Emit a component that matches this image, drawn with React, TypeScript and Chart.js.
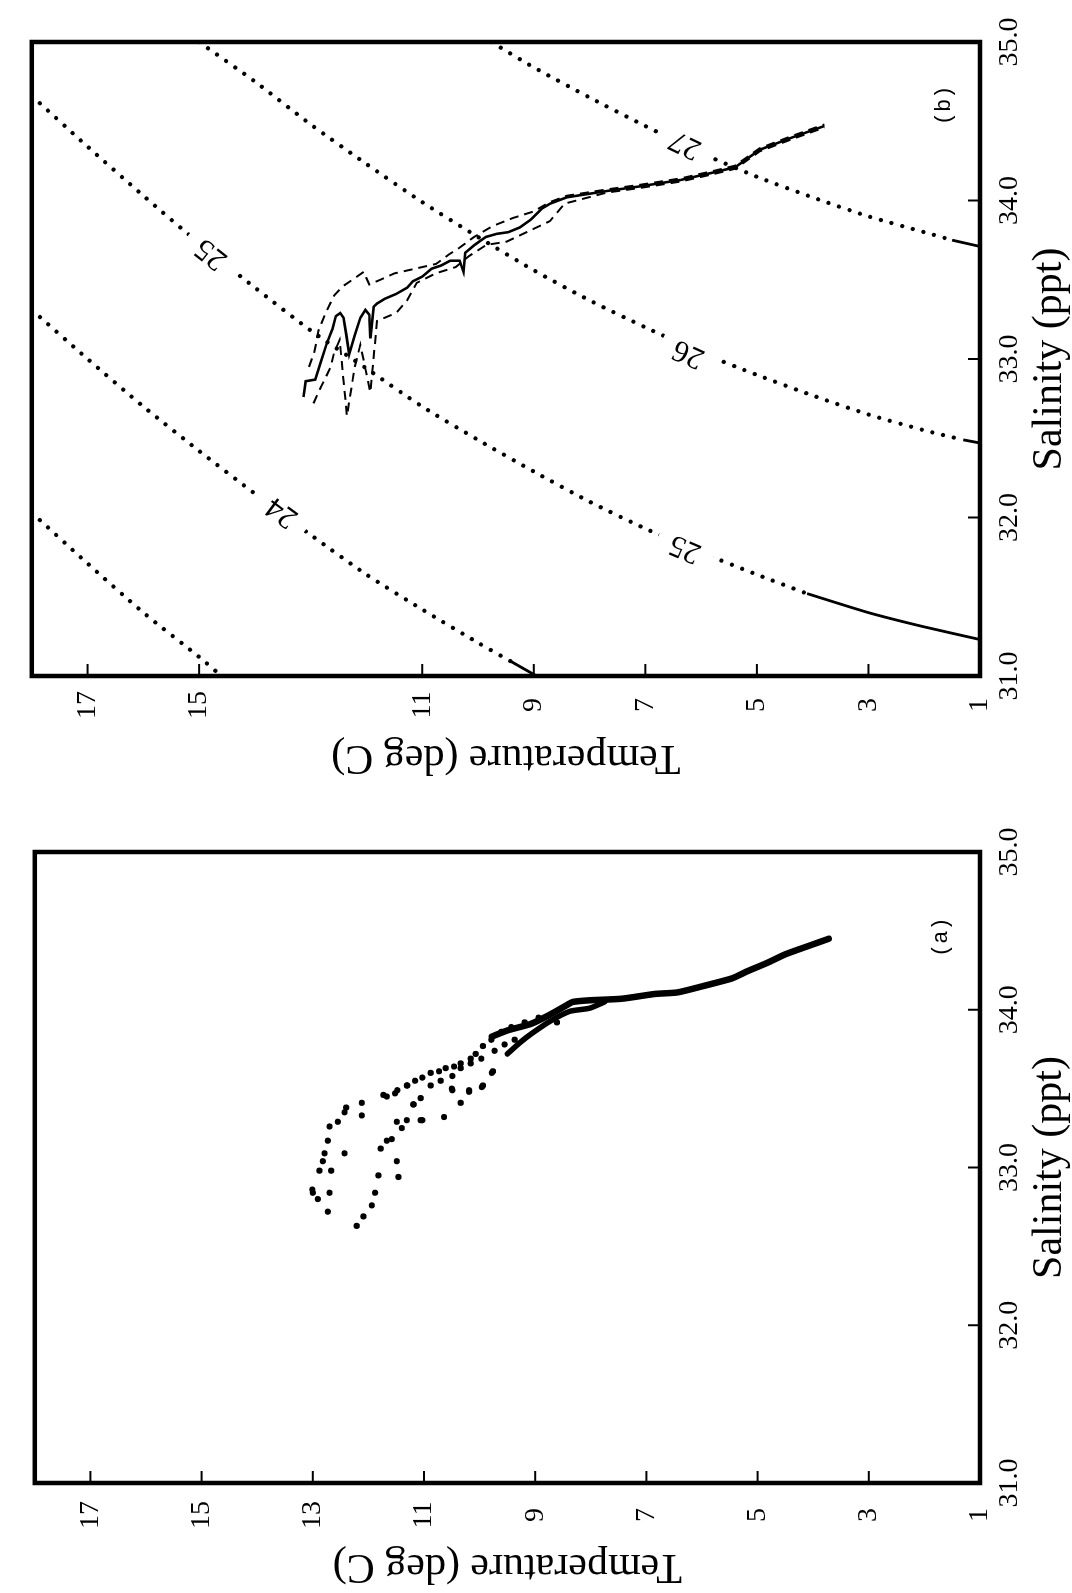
import React, { useEffect, useRef } from 'react';
import { Chart, registerables } from 'chart.js';

Chart.register(...registerables);

const FONT = "'Liberation Serif', 'DejaVu Serif', serif";
const MONO = "'Liberation Mono', 'DejaVu Sans Mono', monospace";

// ---------- axes ----------
const salinityRange = [31, 35];
const salinityStep = 0.25;
const salinityTickValues = [31, 32, 33, 34, 35];
const salinityTickLabels = ['31.0', '32.0', '33.0', '34.0', '35.0'];
const temperatureRange = [1, 18];
const temperatureStep = 1;
const temperatureTickValuesA = [1, 3, 5, 7, 9, 11, 13, 15, 17];
const temperatureTickLabelsA = ['1', '3', '5', '7', '9', '11', '13', '15', '17'];
const temperatureTickValuesB = [1, 3, 5, 7, 9, 11, 15, 17];
const temperatureTickLabelsB = ['1', '3', '5', '7', '9', '11', '15', '17'];
const xTitle = 'Salinity (ppt)';
const yTitle = 'Temperature (deg C)';

// ---------- panel (b): isopycnals (sigma-t) ----------
const sigma23S = [32.03, 31.71, 31.4, 31.12, 31.0];
const sigma23T = [18, 17, 16, 15, 14.6];
const sigma24S = [33.31, 33.0, 32.7, 32.42, 32.15, 31.89, 31.64, 31.42, 31.21, 31.09];
const sigma24T = [18, 17, 16, 15, 14, 13, 12, 11, 10, 9.4];
const sigma24SolidS = [31.09, 31.0];
const sigma24SolidT = [9.4, 8.95];
const sigma25S = [34.66, 34.34, 34.03, 33.73, 33.45, 33.18, 32.94, 32.7, 32.49, 32.29, 32.1, 31.93, 31.78, 31.64, 31.52];
const sigma25T = [18, 17, 16, 15, 14, 13, 12, 11, 10, 9, 8, 7, 6, 5, 4.1];
const sigma25SolidS = [31.52, 31.4, 31.31, 31.23];
const sigma25SolidT = [4.1, 3, 2, 1];
const sigma26S = [35.0, 34.75, 34.48, 34.23, 33.99, 33.77, 33.56, 33.37, 33.2, 33.04, 32.9, 32.77, 32.65, 32.55, 32.49];
const sigma26T = [15, 14, 13, 12, 11, 10, 9, 8, 7, 6, 5, 4, 3, 2, 1.3];
const sigma26SolidS = [32.49, 32.47];
const sigma26SolidT = [1.3, 1];
const sigma27S = [35.0, 34.84, 34.65, 34.47, 34.3, 34.15, 34.02, 33.9, 33.8, 33.75];
const sigma27T = [9.76, 9, 8, 7, 6, 5, 4, 3, 2, 1.5];
const sigma27SolidS = [33.75, 33.71];
const sigma27SolidT = [1.5, 1];

const isoLabelText = ['24', '25', '25', '26', '27'];
const isoLabelS = [32.03, 33.66, 31.8, 33.03, 34.35];
const isoLabelT = [13.52, 14.79, 6.29, 6.23, 6.29];

// ---------- panel (b): mean profile and +/- envelope ----------
const meanS = [32.76, 32.86, 32.87, 32.99, 33.1, 33.19, 33.27, 33.29, 33.26, 33.15, 33.03, 33.15, 33.26, 33.31, 33.28, 33.13, 33.33, 33.35, 33.38, 33.41, 33.45, 33.49, 33.52, 33.57, 33.59, 33.62, 33.62, 33.55, 33.67, 33.72, 33.77, 33.79, 33.8, 33.83, 33.88, 33.95, 33.98, 34.02, 34.06, 34.09, 34.13, 34.18, 34.21, 34.32, 34.4, 34.47];
const meanT = [13.13, 13.09, 12.92, 12.81, 12.71, 12.61, 12.55, 12.47, 12.41, 12.36, 12.31, 12.21, 12.11, 12.02, 11.95, 11.93, 11.87, 11.81, 11.67, 11.47, 11.27, 11.17, 11.0, 10.83, 10.66, 10.5, 10.33, 10.26, 10.23, 10.06, 9.86, 9.66, 9.46, 9.25, 9.05, 8.85, 8.71, 8.41, 7.69, 7.08, 6.36, 5.74, 5.39, 4.95, 4.35, 3.79];
const upperS = [32.95, 33.05, 33.18, 33.3, 33.4, 33.46, 33.5, 33.55, 33.47, 33.5, 33.54, 33.56, 33.58, 33.6, 33.66, 33.7, 33.77, 33.84, 33.89, 33.93, 33.99, 34.03, 34.07, 34.1, 34.14, 34.19, 34.22, 34.33, 34.41, 34.48];
const upperT = [13.03, 12.93, 12.86, 12.72, 12.58, 12.42, 12.25, 12.05, 11.95, 11.75, 11.5, 11.25, 11.0, 10.75, 10.52, 10.34, 10.07, 9.73, 9.37, 9.01, 8.71, 8.41, 7.69, 7.08, 6.36, 5.74, 5.39, 4.95, 4.35, 3.79];
const lowerS = [32.72, 32.82, 32.95, 33.04, 33.12, 32.64, 32.95, 33.09, 32.79, 33.24, 33.29, 33.37, 33.48, 33.54, 33.58, 33.65, 33.72, 33.74, 33.8, 33.87, 33.98, 34.05, 34.08, 34.12, 34.17, 34.2, 34.31, 34.39, 34.46];
const lowerT = [12.95, 12.82, 12.64, 12.58, 12.48, 12.35, 12.21, 12.11, 11.93, 11.81, 11.47, 11.27, 11.1, 10.76, 10.4, 10.16, 9.85, 9.49, 9.13, 8.71, 8.45, 7.69, 7.08, 6.36, 5.74, 5.39, 4.95, 4.35, 3.79];

// ---------- panel (a): individual observations ----------
const obsS = [32.86, 32.84, 32.8, 32.98, 33.04, 33.09, 33.17, 33.26, 33.29, 33.35, 33.38, 33.41, 33.33, 33.46, 33.45, 33.47, 33.52, 33.55, 33.57, 33.6, 33.61, 33.63, 33.64, 33.66, 33.69, 33.72, 33.77, 33.81, 33.86, 33.89, 33.92, 33.95,
  32.63, 32.69, 32.76, 32.84, 32.95, 33.12, 33.17, 33.18, 33.29, 33.25, 33.3, 33.4, 33.44, 33.52, 33.55, 33.58, 33.63, 33.66, 33.69, 33.74, 33.78, 33.81,
  32.72, 32.84, 32.98, 33.09, 33.04, 32.94, 33.3, 33.32, 33.41, 33.49, 33.49, 33.52, 33.61, 33.6, 33.51, 33.48, 33.5, 33.3, 33.4, 33.52, 33.49, 33.92];
const obsT = [13.01, 13.0, 12.91, 12.88, 12.82, 12.79, 12.73, 12.7, 12.55, 12.43, 12.4, 12.12, 12.12, 11.73, 11.67, 11.52, 11.31, 11.16, 11.03, 10.88, 10.73, 10.61, 10.46, 10.34, 10.16, 10.07, 9.94, 9.79, 9.61, 9.43, 9.19, 8.94,
  12.21, 12.09, 11.94, 11.88, 11.82, 11.78, 11.67, 11.58, 11.49, 11.4, 11.31, 11.19, 11.06, 10.88, 10.7, 10.49, 10.34, 10.16, 9.97, 9.73, 9.55, 9.37,
  12.73, 12.7, 12.67, 12.43, 11.49, 11.46, 11.03, 10.64, 10.34, 10.49, 10.19, 9.94, 9.76, 9.78, 9.96, 10.19, 10.5, 11.06, 11.19, 11.3, 11.48, 8.61];
// dense run of overlapping observations (deep water)
const denseUpperS = [33.83, 33.87, 33.91, 33.97, 34.04, 34.05, 34.06, 34.07, 34.1, 34.11, 34.15, 34.2, 34.24, 34.3, 34.35, 34.41, 34.45];
const denseUpperT = [9.78, 9.49, 9.08, 8.73, 8.38, 8.32, 8.02, 7.44, 6.85, 6.44, 5.98, 5.45, 5.21, 4.81, 4.51, 4.04, 3.72];
const denseLowerS = [33.72, 33.79, 33.85, 33.93, 33.99, 34.01, 34.05];
const denseLowerT = [9.5, 9.28, 9.06, 8.72, 8.38, 8.02, 7.75];

// ---------- helpers ----------
const toPoints = (s: number[], t: number[]) => s.map((v, i) => ({ x: v, y: t[i] }));

const dottedIso = (s: number[], t: number[]) => ({
  data: toPoints(s, t), showLine: true, borderColor: '#000', borderWidth: 4.2,
  borderDash: [0.01, 11], borderCapStyle: 'round', pointRadius: 0, tension: 0.25, order: 5,
});
const solidIso = (s: number[], t: number[]) => ({
  data: toPoints(s, t), showLine: true, borderColor: '#000', borderWidth: 2.8,
  pointRadius: 0, tension: 0.2, order: 5,
});

const decorPlugin = {
  id: 'decor',
  afterDatasetsDraw(chart: any) {
    const opts = chart.options.plugins.decor || {};
    const ctx = chart.ctx;
    const xs = chart.scales.x;
    const ys = chart.scales.y;
    (opts.isoLabels || []).forEach((lab: any) => {
      const px = xs.getPixelForValue(lab.s);
      const py = ys.getPixelForValue(lab.t);
      const S = lab.curveS;
      const T = lab.curveT;
      let k = 0;
      for (let i = 0; i < T.length - 1; i++) {
        if ((T[i] - lab.t) * (T[i + 1] - lab.t) <= 0) { k = i; break; }
      }
      let dx = xs.getPixelForValue(S[k + 1]) - xs.getPixelForValue(S[k]);
      let dy = ys.getPixelForValue(T[k + 1]) - ys.getPixelForValue(T[k]);
      if (dx < 0) { dx = -dx; dy = -dy; }
      const ang = Math.atan2(dy, dx);
      ctx.save();
      ctx.translate(px, py);
      ctx.rotate(ang);
      ctx.font = `31px ${FONT}`;
      const w = ctx.measureText(lab.text).width;
      ctx.fillStyle = '#fff';
      ctx.fillRect(-w / 2 - 14, -14, w + 28, 28);
      ctx.fillStyle = '#000';
      ctx.textAlign = 'center';
      ctx.textBaseline = 'middle';
      ctx.fillText(lab.text, 0, 1);
      ctx.restore();
    });
  },
  afterDraw(chart: any) {
    const opts = chart.options.plugins.decor || {};
    const ctx = chart.ctx;
    const xs = chart.scales.x;
    const ys = chart.scales.y;
    const { left, right, top, bottom } = chart.chartArea;
    ctx.save();
    ctx.strokeStyle = '#000';
    ctx.lineWidth = 2;
    xs.ticks.forEach((tk: any) => {
      const p = xs.getPixelForValue(tk.value);
      const major = salinityTickValues.includes(tk.value);
      const len = major ? 12 : 7;
      ctx.beginPath();
      ctx.moveTo(p, bottom);
      ctx.lineTo(p, bottom - len);
      ctx.stroke();
    });
    ys.ticks.forEach((tk: any) => {
      const p = ys.getPixelForValue(tk.value);
      const major = Math.round(tk.value) % 2 === 1;
      const len = major ? 12 : 6;
      ctx.beginPath();
      ctx.moveTo(left, p);
      ctx.lineTo(left + len, p);
      ctx.stroke();
    });
    ctx.lineWidth = 4.5;
    ctx.strokeRect(left, top, right - left, bottom - top);
    if (opts.panelLabel) {
      ctx.fillStyle = '#000';
      ctx.font = `22px ${MONO}`;
      ctx.textAlign = 'center';
      ctx.textBaseline = 'middle';
      ctx.fillText(opts.panelLabel.text, xs.getPixelForValue(opts.panelLabel.s), ys.getPixelForValue(opts.panelLabel.t));
    }
    ctx.restore();
  },
};

function buildConfig(p: any) {
  return {
    type: 'scatter',
    data: { datasets: p.datasets },
    plugins: [decorPlugin],
    options: {
      animation: false,
      responsive: false,
      maintainAspectRatio: false,
      devicePixelRatio: 1,
      events: [],
      layout: { padding: { left: 0, top: 12, right: p.padRight, bottom: 0 } },
      plugins: {
        legend: { display: false },
        tooltip: { enabled: false },
        decor: { isoLabels: p.isoLabels, panelLabel: p.panelLabel },
      },
      scales: {
        x: {
          type: 'linear', position: 'bottom', min: salinityRange[0], max: salinityRange[1],
          grid: { display: false, drawTicks: false }, border: { display: false },
          ticks: {
            stepSize: salinityStep, autoSkip: false, maxRotation: 0, minRotation: 0, padding: 13,
            color: '#000', font: { family: FONT, size: 28 },
            callback: (v: any) => {
              const i = salinityTickValues.indexOf(Number(v));
              return i >= 0 ? salinityTickLabels[i] : null;
            },
          },
          title: { display: true, text: xTitle, color: '#000', font: { family: FONT, size: 42, lineHeight: 1.05 }, padding: 0 },
          afterFit: (s: any) => { s.height = p.xAxisHeight; },
        },
        y: {
          type: 'linear', position: 'left', min: temperatureRange[0], max: temperatureRange[1],
          grid: { display: false, drawTicks: false }, border: { display: false },
          ticks: {
            stepSize: temperatureStep, autoSkip: false, padding: p.yTickPad, crossAlign: 'center',
            color: '#000', font: { family: FONT, size: 28 },
            callback: (v: any) => {
              const i = p.tempTickValues.indexOf(Number(v));
              return i >= 0 ? p.tempTickLabels[i] : null;
            },
          },
          title: { display: true, text: yTitle, color: '#000', font: { family: FONT, size: 42, lineHeight: 1.05 }, padding: { top: p.yTitlePad, bottom: 0 } },
          afterFit: (s: any) => { s.width = p.yAxisWidth; },
        },
      },
    },
  };
}

const panelB = {
  top: 0, w: 790, h: 1072, padRight: 42, xAxisHeight: 92, yAxisWidth: 114, yTickPad: 15, yTitlePad: 11,
  tempTickValues: temperatureTickValuesB, tempTickLabels: temperatureTickLabelsB,
  panelLabel: { text: '(b)', s: 34.6, t: 1.65 },
  isoLabels: [
    { text: isoLabelText[0], s: isoLabelS[0], t: isoLabelT[0], curveS: sigma24S, curveT: sigma24T },
    { text: isoLabelText[1], s: isoLabelS[1], t: isoLabelT[1], curveS: sigma25S, curveT: sigma25T },
    { text: isoLabelText[2], s: isoLabelS[2], t: isoLabelT[2], curveS: sigma25S, curveT: sigma25T },
    { text: isoLabelText[3], s: isoLabelS[3], t: isoLabelT[3], curveS: sigma26S, curveT: sigma26T },
    { text: isoLabelText[4], s: isoLabelS[4], t: isoLabelT[4], curveS: sigma27S, curveT: sigma27T },
  ],
  datasets: [
    dottedIso(sigma23S, sigma23T),
    dottedIso(sigma24S, sigma24T), solidIso(sigma24SolidS, sigma24SolidT),
    dottedIso(sigma25S, sigma25T), solidIso(sigma25SolidS, sigma25SolidT),
    dottedIso(sigma26S, sigma26T), solidIso(sigma26SolidS, sigma26SolidT),
    dottedIso(sigma27S, sigma27T), solidIso(sigma27SolidS, sigma27SolidT),
    { data: toPoints(upperS, upperT), showLine: true, borderColor: '#000', borderWidth: 2, borderDash: [9, 6], pointRadius: 0, tension: 0, order: 2 },
    { data: toPoints(lowerS, lowerT), showLine: true, borderColor: '#000', borderWidth: 2, borderDash: [9, 6], pointRadius: 0, tension: 0, order: 2 },
    { data: toPoints(meanS, meanT), showLine: true, borderColor: '#000', borderWidth: 2.6, pointRadius: 0, tension: 0, order: 1 },
  ],
};

const panelA = {
  top: 800, w: 793, h: 1072, padRight: 52, xAxisHeight: 92, yAxisWidth: 110, yTickPad: 18, yTitlePad: 5,
  tempTickValues: temperatureTickValuesA, tempTickLabels: temperatureTickLabelsA,
  panelLabel: { text: '(a)', s: 34.46, t: 1.7 },
  isoLabels: [],
  datasets: [
    { data: toPoints(denseUpperS, denseUpperT), showLine: true, borderColor: '#000', borderWidth: 6.5, borderCapStyle: 'round', borderJoinStyle: 'round', pointRadius: 0, tension: 0.2, order: 2 },
    { data: toPoints(denseLowerS, denseLowerT), showLine: true, borderColor: '#000', borderWidth: 5.5, borderCapStyle: 'round', borderJoinStyle: 'round', pointRadius: 0, tension: 0.2, order: 2 },
    { data: toPoints(obsS, obsT), showLine: false, pointRadius: 3.1, pointBorderWidth: 0, pointBackgroundColor: '#000', backgroundColor: '#000', order: 1 },
  ],
};

function RotatedPanel({ cfg }: { cfg: any }) {
  const ref = useRef<HTMLCanvasElement>(null);
  useEffect(() => {
    const chart = new Chart(ref.current as HTMLCanvasElement, buildConfig(cfg) as any);
    return () => chart.destroy();
  }, [cfg]);
  return (
    <div
      style={{
        position: 'absolute', left: 0, top: cfg.top, width: cfg.w, height: cfg.h,
        transformOrigin: '0 0', transform: `translateY(${cfg.w}px) rotate(-90deg)`,
      }}
    >
      <canvas ref={ref} width={cfg.w} height={cfg.h} style={{ display: 'block', width: cfg.w, height: cfg.h }} />
    </div>
  );
}

export default function App() {
  return (
    <div style={{ position: 'fixed', left: 0, top: 0, width: 1072, height: 1593, background: '#fff', overflow: 'hidden' }}>
      <RotatedPanel cfg={panelB} />
      <RotatedPanel cfg={panelA} />
    </div>
  );
}
